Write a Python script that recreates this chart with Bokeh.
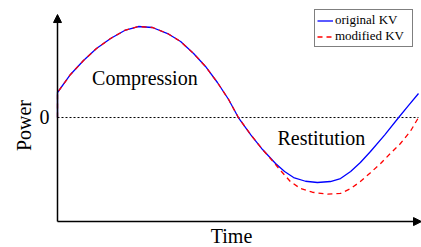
import math
from bokeh.plotting import figure
from bokeh.models import Range1d, Arrow, NormalHead, Legend, LegendItem
from bokeh.core.properties import value
from bokeh.embed import file_html
from bokeh.resources import INLINE

# ---- data (arbitrary units) ----
time_orig = [0.0, 0.0, 0.36, 0.72, 1.08, 1.47, 1.86, 2.24, 2.63, 3.05, 3.41, 3.77, 4.10,
             4.43, 4.74, 5.01, 5.35, 5.68, 6.04, 6.29, 6.54, 6.87, 7.20, 7.56, 7.84, 8.12,
             8.39, 8.67, 9.06, 9.45, 9.72, 10.0]
power_orig = [0.0, 0.278, 0.478, 0.633, 0.767, 0.878, 0.967, 1.011, 1.0, 0.933, 0.844, 0.711,
              0.567, 0.389, 0.2, 0.0, -0.189, -0.356, -0.511, -0.6, -0.667, -0.708, -0.722,
              -0.711, -0.678, -0.6, -0.5, -0.378, -0.195, 0.0, 0.133, 0.267]

time_mod = [0.0, 0.0, 0.36, 0.72, 1.08, 1.47, 1.86, 2.24, 2.63, 3.05, 3.41, 3.77, 4.10,
            4.43, 4.74, 5.01, 5.35, 5.68, 5.90, 6.18, 6.45, 6.73, 7.06, 7.48, 7.84, 8.12,
            8.39, 8.67, 8.95, 9.22, 9.50, 9.78, 10.0]
power_mod = [0.0, 0.278, 0.478, 0.633, 0.767, 0.878, 0.967, 1.011, 1.0, 0.933, 0.844, 0.711,
             0.567, 0.389, 0.2, 0.0, -0.189, -0.356, -0.456, -0.589, -0.711, -0.789, -0.83,
             -0.852, -0.843, -0.79, -0.711, -0.613, -0.511, -0.4, -0.289, -0.15, 0.0]

zero_ticks = [0]
tick_labels = ["0"]
series_labels = ["original KV", "modified KV"]
region_labels = ["Compression", "Restitution"]
axis_titles = ["Time", "Power"]

X_MIN, X_MAX = -1.579, 10.083
Y_MIN, Y_MAX = -1.444, 1.3
AX_Y = -1.156      # level of the time axis
AX_TOP = 1.144     # tip of the power axis arrow
FONT = "Liberation Serif"

p = figure(width=421, height=247, output_backend="svg", toolbar_location=None,
           x_range=Range1d(X_MIN, X_MAX), y_range=Range1d(Y_MIN, Y_MAX),
           min_border=0, x_axis_location=None, y_axis_location=None)
p.outline_line_color = None
p.grid.visible = False

# zero reference line
p.line([time_orig[0], time_orig[-1]], [zero_ticks[0]] * 2, line_color="black",
       line_width=1, line_dash="2 2")

r1 = p.line(time_orig, power_orig, line_color="#0000ff", line_width=1.3)
r2 = p.line(time_mod, power_mod, line_color="#ff0000", line_width=1.3, line_dash="5 4")

# axes with arrow heads
p.add_layout(Arrow(x_start=0, y_start=AX_Y, x_end=0, y_end=AX_TOP,
                   line_color="black", line_width=1.5,
                   end=NormalHead(size=8, fill_color="black", line_color="black")))
p.add_layout(Arrow(x_start=0, y_start=AX_Y, x_end=X_MAX, y_end=AX_Y,
                   line_color="black", line_width=1.5,
                   end=NormalHead(size=8, fill_color="black", line_color="black")))

txt = dict(text_font=value(FONT), text_font_size="20px", text_color="black")

# tick label on the power axis
p.text(x=[-0.222], y=[z + 0.005 for z in zero_ticks], text=tick_labels,
       text_align="right", text_baseline="alphabetic", **txt)

# region labels
p.text(x=[2.42, 7.31], y=[0.444, -0.233], text=region_labels,
       text_align="center", text_baseline="alphabetic", **txt)

# axis titles
p.text(x=[4.82], y=[-1.311], text=[axis_titles[0]],
       text_align="center", text_baseline="alphabetic", **txt)
p.text(x=[-0.915], y=[-0.089], text=[axis_titles[1]], angle=math.pi / 2,
       text_align="center", text_baseline="alphabetic", **txt)

legend = Legend(items=[LegendItem(label=series_labels[0], renderers=[r1]),
                       LegendItem(label=series_labels[1], renderers=[r2])],
                location=(314, 200), margin=0, padding=2, spacing=0,
                glyph_width=16, glyph_height=13, label_height=13, label_width=75,
                label_standoff=2, label_text_font=FONT, label_text_font_size="13px",
                label_text_color="black", border_line_color="black", border_line_width=1,
                background_fill_alpha=1)
p.add_layout(legend)

open("out.html", "w").write(file_html(p, INLINE))
